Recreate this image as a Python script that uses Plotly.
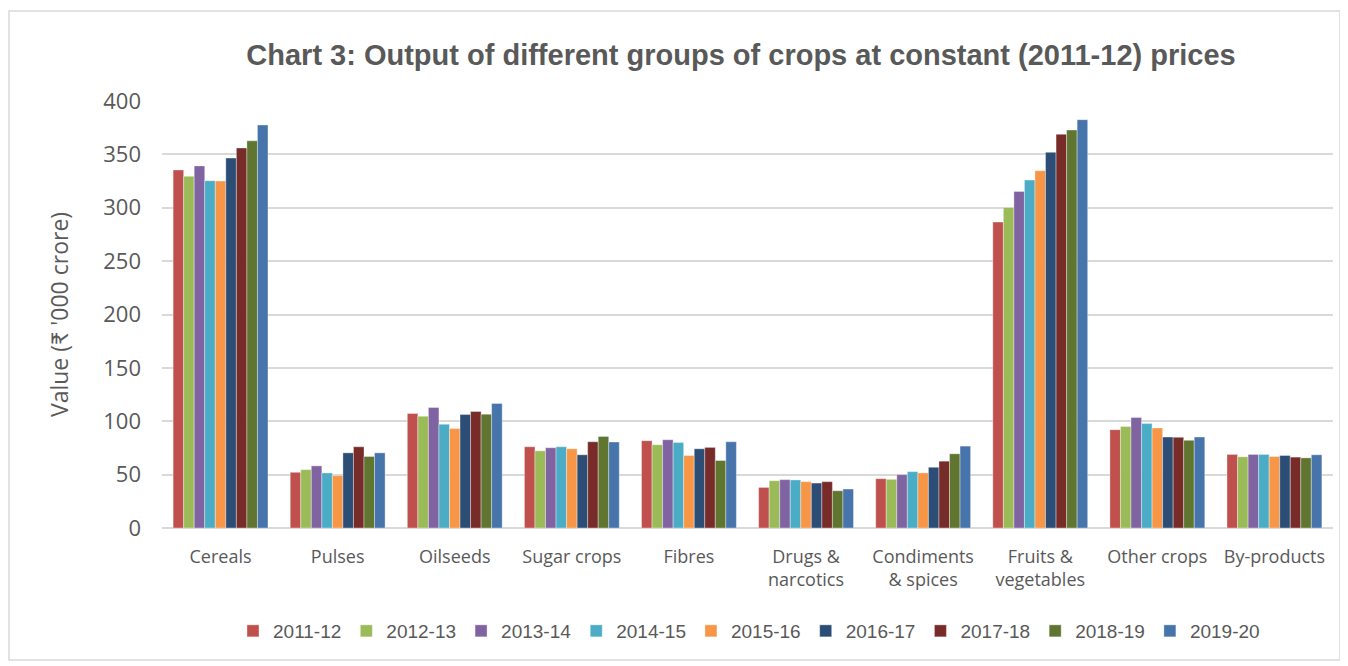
import plotly.graph_objects as go

categories = ["Cereals", "Pulses", "Oilseeds", "Sugar crops", "Fibres", "Drugs &<br>narcotics",
              "Condiments<br>& spices", "Fruits &<br>vegetables", "Other crops", "By-products"]
years = ["2011-12", "2012-13", "2013-14", "2014-15", "2015-16", "2016-17", "2017-18", "2018-19", "2019-20"]

v_2011_12 = [335.4, 52.2, 107.2, 76.1, 81.8, 38.0, 46.2, 286.6, 92.1, 68.9]
v_2012_13 = [329.4, 54.7, 104.7, 72.3, 78.0, 44.3, 45.6, 300.3, 95.0, 66.7]
v_2013_14 = [339.2, 58.2, 112.9, 75.2, 82.7, 45.3, 50.0, 315.3, 103.5, 68.9]
v_2014_15 = [325.3, 51.6, 97.2, 76.1, 80.2, 45.0, 52.8, 325.9, 97.8, 68.9]
v_2015_16 = [325.0, 49.1, 93.1, 74.2, 67.9, 43.4, 51.6, 334.7, 93.7, 67.0]
v_2016_17 = [346.5, 70.4, 106.3, 68.6, 74.2, 42.1, 56.9, 351.9, 85.2, 67.9]
v_2017_18 = [356.0, 76.1, 109.1, 80.8, 75.5, 43.4, 62.6, 368.8, 84.9, 66.4]
v_2018_19 = [362.7, 67.0, 106.6, 85.8, 63.2, 34.9, 69.5, 372.8, 82.1, 65.7]
v_2019_20 = [377.5, 70.4, 116.7, 80.5, 80.8, 36.5, 76.7, 382.5, 85.2, 68.6]

series = [v_2011_12, v_2012_13, v_2013_14, v_2014_15, v_2015_16,
          v_2016_17, v_2017_18, v_2018_19, v_2019_20]
colors = ["#C0504D", "#9BBB59", "#8064A2", "#4BACC6", "#F79646",
          "#2C4D75", "#772C2A", "#5F7530", "#4674AB"]

fig = go.Figure()
for name, vals, c in zip(years, series, colors):
    fig.add_trace(go.Bar(name=name, x=categories, y=vals, marker_color=c,
                         marker_line=dict(width=0.6, color="rgba(255,255,255,0.6)")))

# page body adds an 8px offset; figure coords = screen coords - 8
OFF = 8
W, H = 1340, 658
L, R, T, B = 162 - OFF, W - (1333 - OFF), 101 - OFF, H - (528 - OFF)
pw, ph = W - L - R, H - T - B

fig.update_layout(
    width=W, height=H,
    margin=dict(l=L, r=R, t=T, b=B, autoexpand=False),
    paper_bgcolor="white", plot_bgcolor="white",
    barmode="group", bargap=0.19, bargroupgap=0,
    title=dict(text="<b>Chart 3: Output of different groups of crops at constant (2011-12) prices</b>",
               x=(741 - OFF) / W, xanchor="center", xref="container",
               y=1 - (55 - OFF) / H, yanchor="middle", yref="container",
               font=dict(family="Liberation Sans, Arial", size=29, color="#595959")),
    font=dict(family="Open Sans, Lato", color="#595959"),
    legend=dict(orientation="h", x=(749 - OFF) / W, xanchor="center", xref="container",
                y=1 - (631 - OFF) / H, yanchor="middle", yref="container",
                font=dict(family="Liberation Sans, Arial", size=19, color="#595959"),
                itemwidth=30, traceorder="normal"),
    showlegend=True,
)
fig.update_yaxes(range=[0, 400], dtick=50, showgrid=True, gridcolor="#D9D9D9", gridwidth=1.5,
                 zeroline=True, zerolinecolor="#D9D9D9", zerolinewidth=1.5,
                 tickfont=dict(size=22, color="#595959"), ticks="", ticklabelstandoff=20,
                 title=dict(text="Value (₹ '000 crore)", font=dict(size=23, color="#595959"), standoff=28),
                 showline=False, automargin=False)
fig.update_xaxes(tickfont=dict(size=18, color="#595959"), showline=False, ticks="",
                 ticklabelstandoff=16, automargin=False)

fig.add_shape(type="rect", xref="paper", yref="paper",
              x0=(9 - 162) / pw, x1=(1340 - 162) / pw, y0=(528 - 660) / ph, y1=(528 - 11) / ph,
              line=dict(color="#D9D9D9", width=1.5), fillcolor="rgba(0,0,0,0)", layer="below")

fig.write_html("out.html")
